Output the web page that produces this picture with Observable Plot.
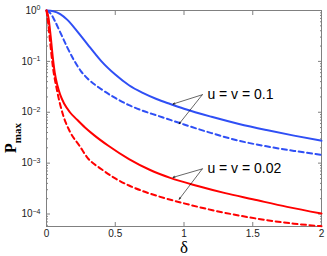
<!DOCTYPE html>
<html><head><meta charset="utf-8">
<script src="https://cdn.jsdelivr.net/npm/d3@7"></script>
<script src="https://cdn.jsdelivr.net/npm/@observablehq/plot@0.6"></script>
<style>body{margin:0;background:#fff} svg{display:block}</style>
</head><body><div id="chart"></div>
<script>
// δ values and P_max values for each curve
const blueSolidDelta = [0, 0.05, 0.1, 0.15, 0.2, 0.25, 0.3, 0.35, 0.4, 0.5, 0.6, 0.7, 0.8, 0.9, 1.0, 1.2, 1.4, 1.6, 1.8, 2.0];
const blueSolidP     = [1, 0.966, 0.851, 0.661, 0.468, 0.316, 0.214, 0.145, 0.1, 0.055, 0.0339, 0.024, 0.0182, 0.0145, 0.0117, 0.00813, 0.00589, 0.00447, 0.00347, 0.00275];
const blueDashDelta  = [0, 0.03, 0.06, 0.1, 0.15, 0.2, 0.25, 0.3, 0.4, 0.5, 0.6, 0.7, 0.8, 0.9, 1.0, 1.2, 1.4, 1.6, 1.8, 2.0];
const blueDashP      = [1, 0.871, 0.631, 0.372, 0.191, 0.105, 0.0646, 0.0457, 0.0282, 0.0191, 0.0138, 0.0107, 0.0087, 0.00708, 0.00575, 0.00389, 0.00275, 0.00214, 0.00174, 0.00145];
const redSolidDelta  = [0, 0.015, 0.03, 0.045, 0.06, 0.08, 0.1, 0.13, 0.17, 0.22, 0.28, 0.35, 0.45, 0.6, 0.75, 0.9, 1.1, 1.3, 1.5, 1.75, 2.0];
const redSolidP      = [1, 0.708, 0.316, 0.126, 0.0603, 0.0331, 0.0219, 0.0145, 0.01, 0.00724, 0.00501, 0.00347, 0.00219, 0.0012, 0.000741, 0.000513, 0.000355, 0.000257, 0.000195, 0.000138, 0.000102];
const redDashDelta   = [0, 0.012, 0.025, 0.047, 0.077, 0.12, 0.17, 0.24, 0.3, 0.4, 0.5, 0.6, 0.7, 0.8, 1.0, 1.2, 1.4, 1.6, 1.8, 2.0];
const redDashP       = [1, 0.562, 0.257, 0.0759, 0.0263, 0.00891, 0.00417, 0.00219, 0.00126, 0.000759, 0.000501, 0.000363, 0.000282, 0.000229, 0.000162, 0.00012, 0.0000933, 0.0000759, 0.0000646, 0.0000575];

const xTicks = [0, 0.5, 1, 1.5, 2];
const xTickLabels = ["0", "0.5", "1", "1.5", "2"];
const yMajor = [1e-4, 1e-3, 1e-2, 1e-1, 1];
const yExponents = ["\u22124", "\u22123", "\u22122", "\u22121", "0"];
const yMinorMant = [2, 3, 4, 5, 6, 7, 8, 9];

const annText  = ["u = v = 0.1", "u = v = 0.02"];
const annDelta = [1.17, 1.17];
const annP     = [0.0221, 0.00077];
const arrowStartDelta = [1.133, 1.133, 1.133, 1.133];
const arrowStartP     = [0.0221, 0.0221, 0.00077, 0.00077];
const arrowEndDelta   = [0.92, 0.965, 0.92, 0.965];
const arrowEndP       = [0.0145, 0.00593, 0.000525, 0.000195];

const toRows = (xs, ys) => xs.map((d, i) => ({delta: d, p: ys[i]}));
const yMinor = [1e-5, 1e-4, 1e-3, 1e-2, 1e-1].flatMap(b => yMinorMant.map(m => m * b)).filter(v => v > 5.68e-5 && v < 1);
const annRows = annText.map((t, i) => ({text: t, delta: annDelta[i], p: annP[i]}));
const arrowRows = arrowStartDelta.map((d, i) => ({x1: d, y1: arrowStartP[i], x2: arrowEndDelta[i], y2: arrowEndP[i]}));

const blue = "#2f4ff5", red = "#ff0000", frameColor = "#808080";

const chart = Plot.plot({
  width: 327, height: 256,
  marginLeft: 46, marginRight: 6, marginTop: 10, marginBottom: 30,
  style: {fontFamily: "'Liberation Sans', Arial, sans-serif", fontSize: "10px", color: "#222", background: "#fff"},
  x: {domain: [0, 2], label: null},
  y: {type: "log", domain: [5.68e-5, 1], label: null},
  marks: [
    Plot.axisX(xTicks, {anchor: "bottom", tickSize: -4, stroke: frameColor, tickFormat: () => "", label: null}),
    Plot.axisX(xTicks, {anchor: "top", tickSize: -4, stroke: frameColor, tickFormat: () => "", label: null}),
    Plot.axisX(xTicks, {anchor: "bottom", tickSize: 0, tickPadding: 3, tickFormat: d => xTickLabels[xTicks.indexOf(d)], fill: "#222", label: null}),
    Plot.axisY(yMajor, {anchor: "left", tickSize: -4, stroke: frameColor, tickFormat: () => "", label: null}),
    Plot.axisY(yMajor, {anchor: "right", tickSize: -4, stroke: frameColor, tickFormat: () => "", label: null}),
    Plot.axisY(yMinor, {anchor: "left", tickSize: -2, stroke: frameColor, tickFormat: () => "", label: null}),
    Plot.axisY(yMinor, {anchor: "right", tickSize: -2, stroke: frameColor, tickFormat: () => "", label: null}),
    Plot.axisY(yMajor, {anchor: "left", tickSize: 0, tickPadding: 6, tickFormat: d => yExponents[yMajor.indexOf(d)], fill: "#222", label: null}),
    Plot.frame({stroke: frameColor}),
    Plot.line(toRows(blueSolidDelta, blueSolidP), {x: "delta", y: "p", stroke: blue, strokeWidth: 2, curve: "monotone-x"}),
    Plot.line(toRows(blueDashDelta, blueDashP), {x: "delta", y: "p", stroke: blue, strokeWidth: 2, strokeDasharray: "5,3.5", curve: "monotone-x"}),
    Plot.line(toRows(redSolidDelta, redSolidP), {x: "delta", y: "p", stroke: red, strokeWidth: 2, curve: "monotone-x"}),
    Plot.line(toRows(redDashDelta, redDashP), {x: "delta", y: "p", stroke: red, strokeWidth: 2, strokeDasharray: "5,3.5", curve: "monotone-x"}),
    Plot.arrow(arrowRows, {x1: "x1", y1: "y1", x2: "x2", y2: "y2", stroke: "#000", strokeWidth: 0.6, headLength: 5, headAngle: 40}),
    Plot.text(annRows, {x: "delta", y: "p", text: "text", textAnchor: "start", lineAnchor: "middle", fontSize: 14, fill: "#000"})
  ]
});

const svg = d3.select(chart);
// remove empty tick-label texts from tick-only axes; superscript the real y labels
svg.selectAll('g[aria-label="x-axis tick label"] text, g[aria-label="y-axis tick label"] text').each(function() {
  if (d3.select(this).text() === "") d3.select(this).remove();
});
svg.selectAll('g[aria-label="y-axis tick label"] text').each(function() {
  const t = d3.select(this);
  const exp = t.text();
  t.text("10");
  t.append("tspan").attr("dy", "-0.5em").attr("font-size", "7px").text(exp);
});
// y label P_max
const yl = svg.append("text")
  .attr("transform", "translate(16,138) rotate(-90)")
  .attr("font-family", "'Liberation Serif', 'Times New Roman', serif")
  .attr("font-weight", "bold").attr("font-size", "16px").attr("fill", "#000");
yl.append("tspan").text("P");
yl.append("tspan").attr("dy", "5").attr("font-size", "11px").text("max");
// x label δ
svg.append("text")
  .attr("x", 184).attr("y", 253).attr("text-anchor", "middle")
  .attr("font-family", "'Liberation Serif', 'Times New Roman', serif")
  .attr("font-size", "17px").attr("fill", "#000").text("\u03b4");

document.getElementById("chart").appendChild(chart);
</script>
</body></html>
